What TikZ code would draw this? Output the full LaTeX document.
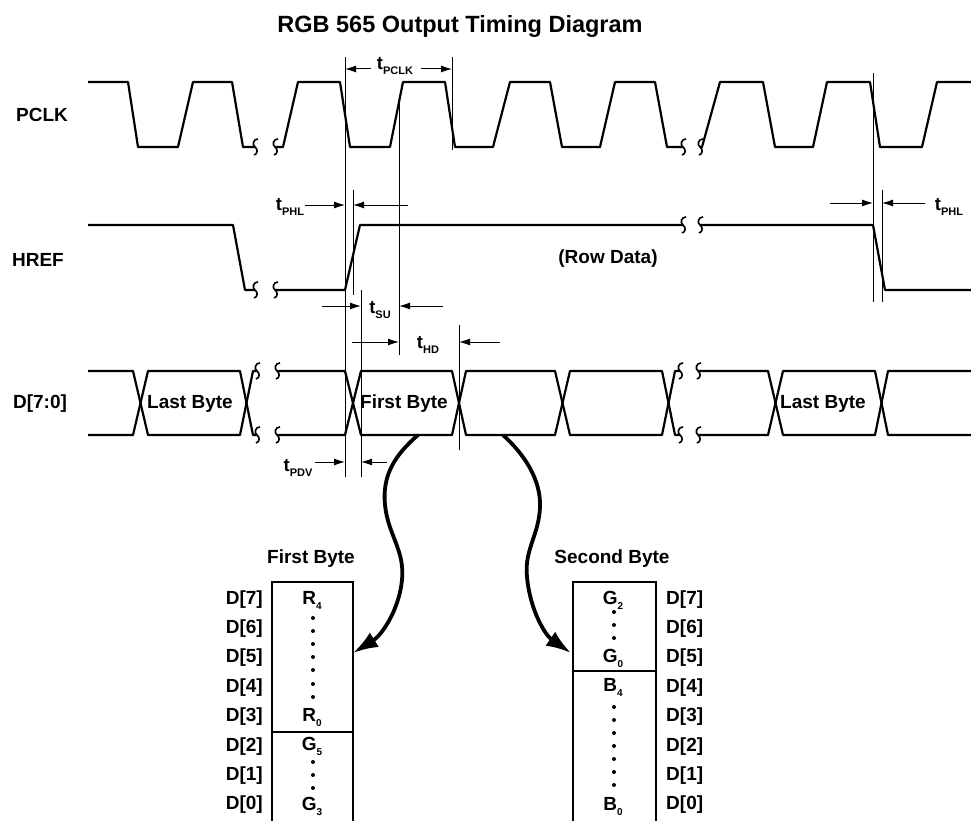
\documentclass[tikz,border=0pt]{standalone}
\usepackage{fontspec}
\setmainfont{Liberation Sans}
\usetikzlibrary{arrows.meta}
\newcommand\tsb[1]{{\fontsize{18.5}{18}\selectfont t}\raisebox{-5pt}{\fontsize{11}{11}\selectfont #1}}
\newcommand\bsb[2]{#1\raisebox{-5pt}{\fontsize{10}{10}\selectfont #2}}
\tikzset{
  brk/.pic={\draw[line width=1.6pt] (3,-8) .. controls (-2,-8) and (-3,-2) .. (0,0) .. controls (3,2) and (3,7) .. (-1,8);},
  wave/.style={line width=2.2pt,line join=round},
  vref/.style={line width=1pt},
  dimar/.style={line width=1pt,-{Latex[length=11pt,width=7pt]}},
  bigar/.style={line width=3.8pt,-{Latex[length=25pt,width=17pt]}},
  tbl/.style={line width=1.5pt},
  lbl/.style={font=\fontsize{19}{19}\selectfont\bfseries,inner sep=0pt},
  tlab/.style={font=\bfseries,inner sep=0pt},
  dotm/.style={fill=black}
}
\begin{document}
\begin{tikzpicture}[x=1pt,y=-1pt]
\useasboundingbox (0,0) rectangle (971,821);
\fill[white] (0,0) rectangle (971,821);

% title
\node[lbl,font=\fontsize{23.5}{24}\selectfont\bfseries,anchor=base] (title) at (460,33) {RGB 565 Output Timing Diagram};

% signal names
\node[lbl,anchor=base] (pclk) at (42,122) {PCLK};
\node[lbl,anchor=base] (href) at (38,266) {HREF};
\node[lbl,anchor=base] (dbus) at (40,408) {D[7:0]};

% PCLK
\draw[wave] (88,82)--(128,82)--(138,147)--(178,147)--(193,82)--(232,82)--(243,147)--(255,147);
\draw[wave] (275,147)--(283,147)--(298,82)--(340,82)--(350,147)--(390,147)--(403,82)--(445,82)--(455,147)--(493,147)--(510,82)--(550,82)--(562,147)--(600,147)--(615,82)--(655,82)--(667,147)--(683,147);
\draw[wave] (700,147)--(702,147)--(720,82)--(763,82)--(775,147)--(813,147)--(827,82)--(870,82)--(880,147)--(922,147)--(937,82)--(971,82);
\pic at (255,147) {brk}; \pic at (275,147) {brk};
\pic at (683,147) {brk}; \pic at (700,147) {brk};

% HREF
\draw[wave] (88,225)--(233,225)--(245,290)--(255,290);
\draw[wave] (275,290)--(345,290)--(360,225)--(683,225);
\draw[wave] (700,225)--(873,225)--(885,290)--(971,290);
\pic at (255,290) {brk}; \pic at (275,290) {brk};
\pic at (683,225) {brk}; \pic at (700,225) {brk};
\node[lbl,anchor=base] (rowdata) at (608,263) {(Row Data)};

% D[7:0]
\draw[wave] (88,371)--(133,371)--(148,435)--(240,435)--(253,371)--(257,371);
\draw[wave] (88,435)--(133,435)--(148,371)--(240,371)--(253,435)--(257,435);
\draw[wave] (277,371)--(345,371)--(361,435)--(452,435)--(466,371)--(555,371)--(570,435)--(662,435)--(675,371)--(680,371);
\draw[wave] (277,435)--(345,435)--(361,371)--(452,371)--(466,435)--(555,435)--(570,371)--(662,371)--(675,435)--(680,435);
\draw[wave] (698,371)--(768,371)--(783,435)--(875,435)--(888,371)--(971,371);
\draw[wave] (698,435)--(768,435)--(783,371)--(875,371)--(888,435)--(971,435);
\pic at (257,371) {brk}; \pic at (277,371) {brk};
\pic at (257,435) {brk}; \pic at (277,435) {brk};
\pic at (680,371) {brk}; \pic at (698,371) {brk};
\pic at (680,435) {brk}; \pic at (698,435) {brk};
\node[lbl,anchor=base] (lb1) at (190,408) {Last Byte};
\node[lbl,anchor=base] (fb1) at (404,408) {First Byte};
\node[lbl,anchor=base] (lb2) at (823,408) {Last Byte};

% reference lines
\draw[vref] (345,57)--(345,477);
\draw[vref] (452,57)--(452,150);
\draw[vref] (353,190)--(353,295);
\draw[vref] (399,100)--(399,355);
\draw[vref] (361,290)--(361,477);
\draw[vref] (459,325)--(459,450);
\draw[vref] (873,73)--(873,302);
\draw[vref] (882,190)--(882,302);

% timing dimensions
\node[tlab] (tpclk) at (395,66) {\tsb{PCLK}};
\draw[dimar] (371,69)--(345,69);
\draw[dimar] (421,69)--(452,69);

\node[tlab] (tphl1) at (290,207) {\tsb{PHL}};
\draw[dimar] (305,205)--(345,205);
\draw[dimar] (408,205)--(353,205);

\node[tlab] (tphl2) at (949,207) {\tsb{PHL}};
\draw[dimar] (830,203)--(873,203);
\draw[dimar] (925,203)--(882,203);

\node[tlab] (tsu) at (380,310) {\tsb{SU}};
\draw[dimar] (322,306)--(361,306);
\draw[dimar] (443,306)--(399,306);

\node[tlab] (thd) at (428,345) {\tsb{HD}};
\draw[dimar] (352,342)--(399,342);
\draw[dimar] (500,342)--(459,342);

\node[tlab] (tpdv) at (298,468) {\tsb{PDV}};
\draw[dimar] (315,462)--(345,462);
\draw[dimar] (387,462)--(361,462);

% curved arrows
\coordinate (fbsrc) at (418,435);
\coordinate (fbdst) at (353,653);
\coordinate (sbsrc) at (503,435);
\coordinate (sbdst) at (571,653);
\draw[bigar] (fbsrc) .. controls (395,455) and (382,475) .. (385,505) .. controls (388,535) and (405,550) .. (402,580) .. controls (399,610) and (382,635) .. (fbdst);
\draw[bigar] (sbsrc) .. controls (525,455) and (541,480) .. (540,507) .. controls (539,535) and (524,550) .. (527,577) .. controls (530,610) and (545,635) .. (sbdst);

% First byte table
\node[lbl,anchor=base] (fbh) at (311,563) {First Byte};
\draw[tbl] (272,830)--(272,582)--(353,582)--(353,830);
\draw[tbl] (272,732)--(353,732);
\foreach \i/\b in {0/7,1/6,2/5,3/4,4/3,5/2,6/1,7/0}
  \node[lbl,anchor=base east] (fl\b) at (263,{604+\i*29.4}) {D[\b]};
\node[lbl,anchor=base] (r4) at (312,604) {\bsb{R}{4}};
\node[lbl,anchor=base] (r0) at (312,721) {\bsb{R}{0}};
\node[lbl,anchor=base] (g5) at (312,750) {\bsb{G}{5}};
\node[lbl,anchor=base] (g3) at (312,810) {\bsb{G}{3}};
\foreach \yy in {618,631,644,657,670,684,697,762,775,788}
  \fill[dotm] (313,\yy) circle[radius=2pt];

% Second byte table
\node[lbl,anchor=base] (sbh) at (612,563) {Second Byte};
\draw[tbl] (573,830)--(573,582)--(656,582)--(656,830);
\draw[tbl] (573,671)--(656,671);
\foreach \i/\b in {0/7,1/6,2/5,3/4,4/3,5/2,6/1,7/0}
  \node[lbl,anchor=base west] (sl\b) at (666,{604+\i*29.4}) {D[\b]};
\node[lbl,anchor=base] (g2) at (613,604) {\bsb{G}{2}};
\node[lbl,anchor=base] (g0) at (613,662) {\bsb{G}{0}};
\node[lbl,anchor=base] (b4) at (613,691) {\bsb{B}{4}};
\node[lbl,anchor=base] (b0) at (613,810) {\bsb{B}{0}};
\foreach \yy in {612,625,638,707,720,733,746,759,772,785}
  \fill[dotm] (614,\yy) circle[radius=2pt];
\end{tikzpicture}
\end{document}
